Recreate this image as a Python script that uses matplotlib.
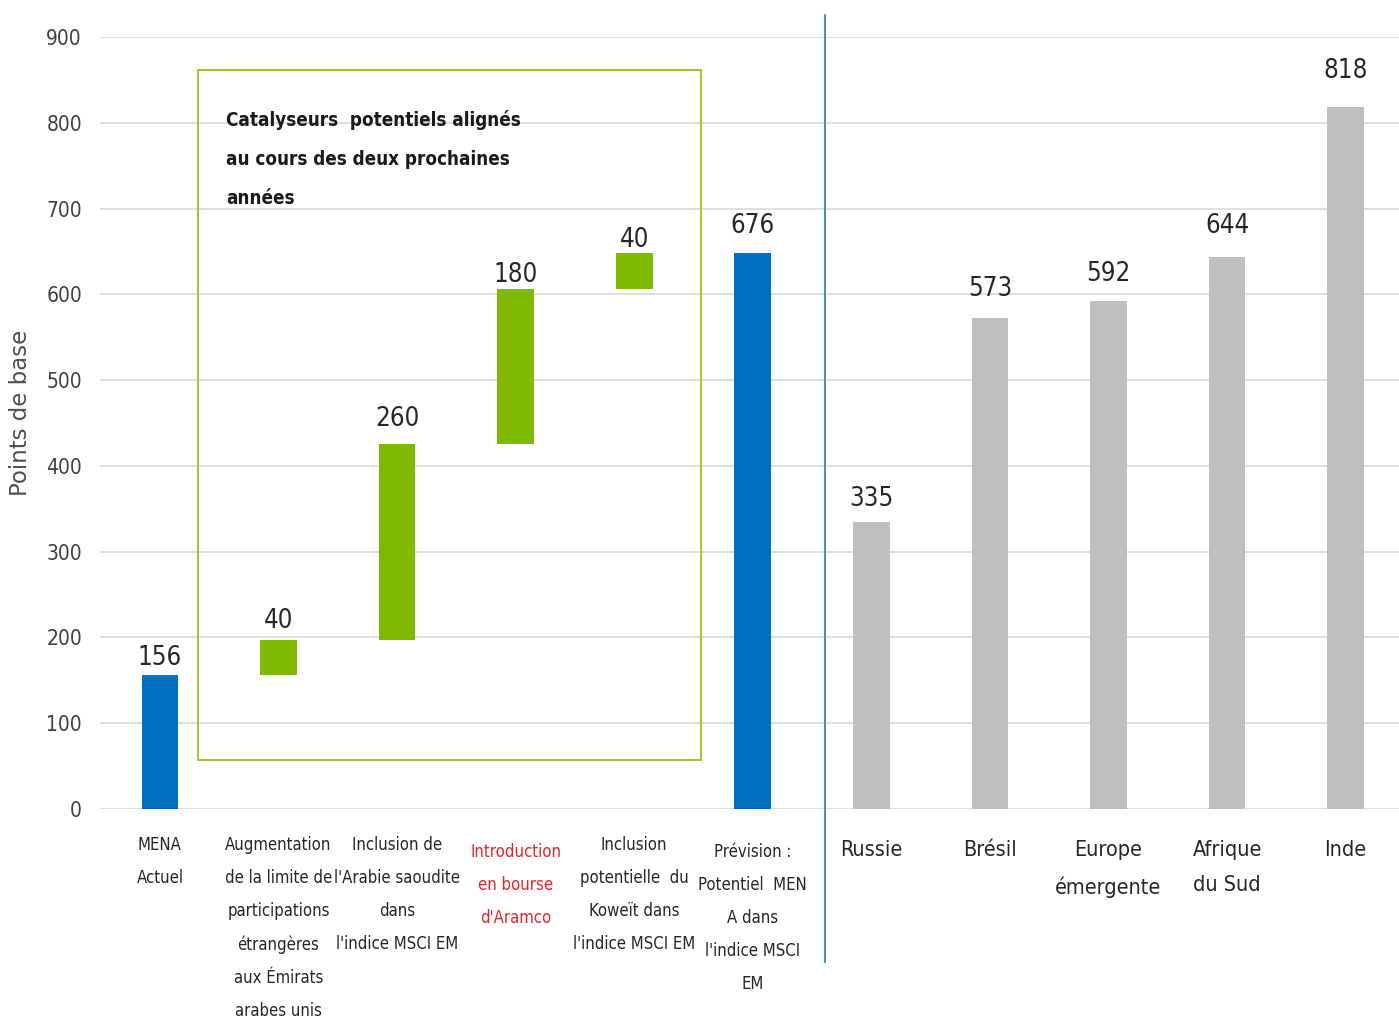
import numpy as np
import matplotlib.pyplot as plt
from matplotlib.patches import Rectangle

plt.rcParams['font.family'] = ['DejaVu Sans']
plt.rcParams['font.stretch'] = 'condensed'

# 数据
categories = ["MENA\nActuel",
              "Augmentation\nde la limite de\nparticipations\nétrangères\naux Émirats\narabes unis",
              "Inclusion de\nl'Arabie saoudite\ndans\nl'indice MSCI EM",
              "Introduction\nen bourse\nd'Aramco",
              "Inclusion\npotentielle  du\nKoweït dans\nl'indice MSCI EM",
              "Prévision :\nPotentiel  MEN\nA dans\nl'indice MSCI\nEM",
              "Russie", "Brésil", "Europe\némergente", "Afrique\ndu Sud", "Inde"]
mena_now = 156
steps_drawn = [41, 229, 180, 42]          # hauteur des barres telle que dessinée
total_drawn = 648
mena_labels = [156, 40, 260, 180, 40, 676]  # étiquettes affichées
peers = [335, 573, 592, 644, 818]

blue = '#0070c0'
green = '#7fba00'
grey = '#bfbfbf'

fig = plt.figure(figsize=(13.99, 10.23), dpi=100)
ax = fig.add_axes([0.0715, 0.2092, 0.9285, 0.7546])

x = np.arange(len(categories))
w = 0.31

# barres MENA
bottoms = [0]
heights = [mena_now]
level = mena_now
for s in steps_drawn:
    bottoms.append(level)
    heights.append(s)
    level += s
bottoms.append(0)
heights.append(total_drawn)
colors = [blue] + [green] * len(steps_drawn) + [blue]
ax.bar(x[:6], heights, bottom=bottoms, width=w, color=colors, zorder=3)
ax.bar(x[6:], peers, width=w, color=grey, zorder=3)

# étiquettes de valeur (écart au-dessus de la barre, en points)
tops = list(np.array(bottoms) + np.array(heights)) + peers
labels = mena_labels + peers
gaps = [3, 4, 8, 1, 0, 10, 7, 11, 10, 13, 17]
for xi, t, lab, g in zip(x, tops, labels, gaps):
    ax.annotate(str(lab), (xi, t), xytext=(0, g), textcoords='offset points',
                ha='center', va='bottom', fontsize=18.5, color='#262626')

ax.set_xlim(-0.505, 10.45)
ax.set_ylim(0, 900)
ax.set_yticks(range(0, 901, 100))
ax.yaxis.grid(True, color='#d9d9d9', lw=1.2, zorder=0)
ax.tick_params(axis='y', length=0, labelsize=15, labelcolor='#404040', pad=13)
ax.tick_params(axis='x', length=0)
ax.set_xticks([])
for sp in ax.spines.values():
    sp.set_visible(False)

ax.set_ylabel('Points de base', fontsize=16.5, color='#505050', fontstretch='normal')
ax.yaxis.set_label_coords(-0.052, 0.513)

# étiquettes des catégories
for i, c in enumerate(categories):
    col = '#e0262b' if i == 3 else '#262626'
    if i < 6:
        y0 = -40 if i in (3, 5) else -31
        ax.text(x[i], y0, c, ha='center', va='top', fontsize=12, color=col, linespacing=2.07)
    else:
        ax.text(x[i], -36, c, ha='center', va='top', fontsize=15.5, color=col, linespacing=1.95)

# cadre des catalyseurs
ax.add_patch(Rectangle((0.32, 57), 4.245, 804, fill=False, ec='#a4c639', lw=1.5, zorder=4,
                       clip_on=False))
ax.text(0.56, 815, "Catalyseurs  potentiels alignés\nau cours des deux prochaines\nannées",
        ha='left', va='top', fontsize=13.5, fontweight='bold', color='#1a1a1a', linespacing=2.35)

# séparateur vertical
fig.add_artist(plt.Line2D([825 / 1399, 825 / 1399], [1 - 15 / 1023, 1 - 962 / 1023],
                          color='#2e75b6', lw=1.2))

fig.savefig('out.png', dpi=100)
